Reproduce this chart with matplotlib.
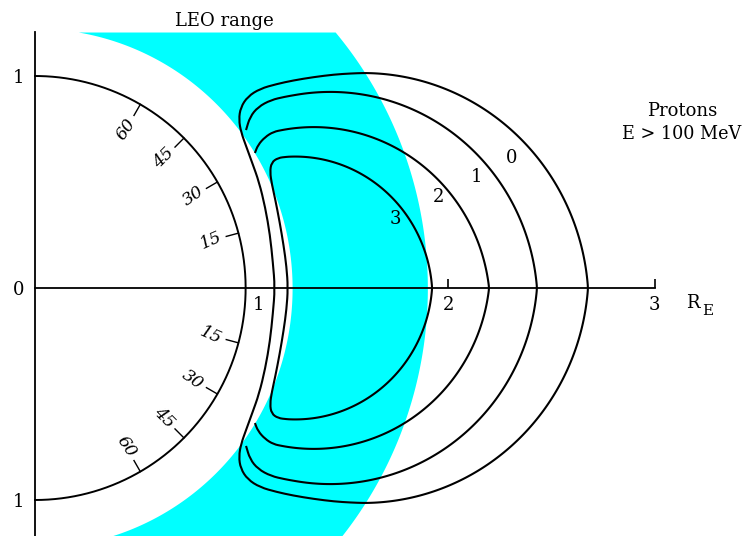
import numpy as np
import matplotlib
matplotlib.use('Agg')
import matplotlib.pyplot as plt
from matplotlib.path import Path
from matplotlib.patches import PathPatch

plt.rcParams['font.family'] = 'DejaVu Serif'

# flux contours (log10 of flux), Earth radii
levels = ['0', '1', '2', '3']
label_xy = [(2.310, 0.613), (2.140, 0.524), (1.956, 0.429), (1.743, 0.325)]

# outer side of each contour: top point (x, y) and equator crossing
peak_x = [1.59, 1.43, 1.35, 1.26]
peak_y = [1.014, 0.925, 0.759, 0.620]
equator_x = [2.678, 2.431, 2.199, 1.923]
arc_start_x = [1.59, 1.259, 1.20, 1.22]

# inner side + rounded corner of each contour (upper half)
c0_cap = [(1.162, 0.000), (1.152, 0.120), (1.138, 0.250), (1.115, 0.380),
          (1.085, 0.500), (1.052, 0.590), (1.022, 0.670), (0.998, 0.735),
          (0.987, 0.795), (0.996, 0.852), (1.030, 0.903), (1.090, 0.940),
          (1.170, 0.962), (1.250, 0.979), (1.350, 0.995), (1.450, 1.007),
          (1.530, 1.012)]
c1_cap = [(1.022, 0.745), (1.041, 0.807), (1.080, 0.854), (1.143, 0.887),
          (1.210, 0.902)]
c2_cap = [(1.065, 0.637), (1.080, 0.675), (1.114, 0.712), (1.155, 0.737)]
c3_cap = [(1.225, 0.000), (1.218, 0.100), (1.204, 0.200), (1.185, 0.310),
          (1.163, 0.420), (1.147, 0.490), (1.138, 0.547), (1.145, 0.592),
          (1.177, 0.614)]
caps = [c0_cap, c1_cap, c2_cap, c3_cap]
closed = [True, False, False, True]

# LEO band (inner / outer edge, semi-axes x, y) and Earth
leo_inner = (1.245, 1.225)
leo_outer = (1.90, 1.875)
earth_r = (1.02, 1.0)
lat_ticks = [15, 30, 45, 60]
lat_rot = [24, 35, 45, 56]


def outline(cap, px, py, ex, sx, is_closed):
    # circle through the top point (flat there) and the equator crossing
    r = ((ex - px) ** 2 + py ** 2) / (2 * py)
    cy = py - r
    t0 = np.arccos((sx - px) / r)
    t1 = np.arcsin(-cy / r)
    t = np.linspace(t0, t1, 60)
    arc = np.column_stack([px + r * np.cos(t), cy + r * np.sin(t)])
    arc[-1, 1] = 0.0
    top = np.vstack([np.array(cap), arc])
    if is_closed:
        bottom = top[1:-1][::-1] * [1, -1]
    else:
        bottom = top[:-1][::-1] * [1, -1]
    return np.vstack([top, bottom])


def smooth_path(pts, is_closed):
    n = len(pts)
    if is_closed:
        mids = (pts + np.roll(pts, -1, axis=0)) / 2
        verts = [mids[-1]]
        codes = [Path.MOVETO]
        for i in range(n):
            verts += [pts[i], mids[i]]
            codes += [Path.CURVE3, Path.CURVE3]
    else:
        mids = (pts[:-1] + pts[1:]) / 2
        verts = [pts[0], mids[0]]
        codes = [Path.MOVETO, Path.LINETO]
        for i in range(1, n - 1):
            verts += [pts[i], mids[i]]
            codes += [Path.CURVE3, Path.CURVE3]
        verts.append(pts[-1])
        codes.append(Path.LINETO)
    return Path(verts, codes)


fig = plt.figure(figsize=(7.44, 5.36), dpi=100)
ax = fig.add_axes([0, 0, 1, 1])
ax.set_xlim(-35 / 206.5, 709 / 206.5)
ax.set_ylim(-248 / 212, 288 / 212)

# LEO range band
y = np.linspace(-1.22, 1.2075, 500)
x_in = leo_inner[0] * np.sqrt(1 - (y / leo_inner[1]) ** 2)
x_out = leo_outer[0] * np.sqrt(1 - (y / leo_outer[1]) ** 2)
ax.fill_betweenx(y, x_in, x_out, color='#00ffff', lw=0, zorder=1)

# Earth with latitude marks
th = np.radians(np.linspace(-90, 90, 300))
ax.plot(earth_r[0] * np.cos(th), earth_r[1] * np.sin(th), 'k', lw=1.4, zorder=3)
for lat, rot in zip(lat_ticks, lat_rot):
    for s in (1, -1):
        a = np.radians(s * lat)
        ax.plot([earth_r[0] * np.cos(a), 0.94 * earth_r[0] * np.cos(a)],
                [earth_r[1] * np.sin(a), 0.94 * earth_r[1] * np.sin(a)],
                'k', lw=1.0, zorder=3)
        ax.text(0.865 * earth_r[0] * np.cos(a), 0.865 * earth_r[1] * np.sin(a),
                str(lat), rotation=s * rot, style='italic', fontsize=12.5,
                ha='center', va='center', rotation_mode='anchor')

# contours
for i, lev in enumerate(levels):
    pts = outline(caps[i], peak_x[i], peak_y[i], equator_x[i],
                  arc_start_x[i], closed[i])
    path = smooth_path(pts, closed[i])
    ax.add_patch(PathPatch(path, fill=False, ec='k', lw=1.5, zorder=4))
    ax.text(label_xy[i][0], label_xy[i][1], lev, fontsize=13,
            ha='center', va='center')

# axes through the origin
for side in ['top', 'right']:
    ax.spines[side].set_visible(False)
ax.spines['left'].set_position(('data', 0))
ax.spines['left'].set_bounds(-1.25, 1.2075)
ax.spines['bottom'].set_position(('data', 0))
ax.spines['bottom'].set_bounds(0, 3)
for side in ['left', 'bottom']:
    ax.spines[side].set_linewidth(1.3)
    ax.spines[side].set_zorder(5)
ax.set_xticks([2, 3])
ax.set_xticklabels(['2', '3'])
ax.tick_params(axis='x', direction='in', length=6.5, width=1.2, pad=6,
               labelsize=13)
ax.set_yticks([-1, 0, 1])
ax.set_yticklabels(['1', '0', '1'])
ax.tick_params(axis='y', length=0, pad=8, labelsize=13)
ax.text(1.08, -0.038, '1', fontsize=13, ha='center', va='top')
ax.text(3.155, -0.094, 'R', fontsize=13, va='baseline')
ax.text(3.232, -0.127, 'E', fontsize=11, va='baseline')

ax.text(0.915, 1.237, 'LEO range', fontsize=13, ha='center', va='baseline')
ax.text(3.133, 0.811, 'Protons', fontsize=13, ha='center', va='baseline')
ax.text(3.133, 0.703, 'E > 100 MeV', fontsize=12.7, ha='center',
        va='baseline')

fig.savefig('out.png', dpi=100)
